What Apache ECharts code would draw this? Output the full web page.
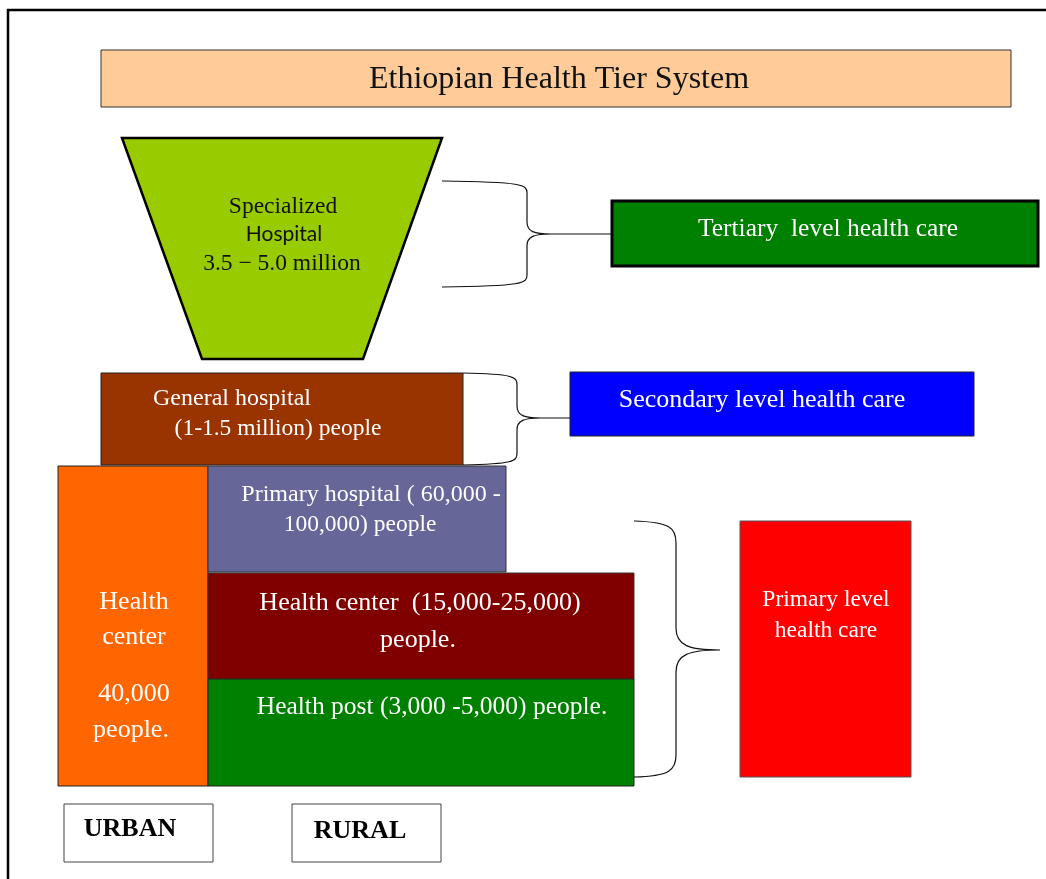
<!DOCTYPE html>
<html><head><meta charset="utf-8">
<script src="https://cdn.jsdelivr.net/npm/echarts@6/dist/echarts.min.js"></script>
<style>html,body{margin:0;padding:0;background:#fff}#c{width:1046px;height:879px}</style>
</head><body><div id="c"></div>
<script>
// Diagram boxes: [x0, y0, x1, y1] in diagram units
const boxNames = ['Title','Tertiary level','General hospital','Secondary level','Urban health center','Primary hospital','Health center','Health post','Primary level','URBAN','RURAL'];
const boxes = [
  [101,50,1011,107],
  [612,201,1038,266],
  [101,373,463,465],
  [570,372,974,436],
  [58,466,208,786],
  [208,466,506,572],
  [208,573,634,679],
  [208,679,634,786],
  [740,521,911,777],
  [64,804,213,862],
  [292,804,441,862]
];
const boxFill = ['#FFCC99','#008000','#993300','#0000FF','#FF6600','#666699','#800000','#008000','#FF0000','#FFFFFF','#FFFFFF'];
const boxStroke = ['#333','#000','#222','#222','#222','#333','#333','#222','#555','#444','#444'];
const boxLine = [1,3,1,1,1,1,1,1,1,1,1];

// Specialized hospital trapezoid corners
const trapezoid = [[122,138],[442,138],[363,359],[202,359]];

// Braces: [x start, y top, y bottom, x vertical, y middle, x tip, radius]
const brackets = [
  [442,181,287,527,234,612,12],
  [463,373,465,517,418,570,12],
  [634,521,777,676,650,719,22]
];

// Outer frame polyline
const frame = [[8,879],[8,10],[1046,10]];

// Text lines: [text, x, y]
const labels = [
  ['Ethiopian Health Tier System',559,80],
  ['Specialized',283,207],
  ['Hospital',284,234],
  ['3.5 \u2212 5.0 million',282,264],
  ['Tertiary  level health care',828,229],
  ['General hospital',232,399],
  ['(1-1.5 million) people',278,429],
  ['Secondary level health care',762,400],
  ['Health',134,602],
  ['center',134,637],
  ['40,000',134,694],
  ['people.',131,730],
  ['Primary hospital ( 60,000 -',371,495],
  ['100,000) people',360,525],
  ['Health center  (15,000-25,000)',420,603],
  ['people.',418,640],
  ['Health post (3,000 -5,000) people.',432,707],
  ['Primary level',826,600],
  ['health care',826,631],
  ['URBAN',130,829],
  ['RURAL',360,831]
];
const labelSize = [32,23.5,21,23.5,25.5,24,23.5,26,26,26,26,26,24,23.5,26,26,25.5,23.5,23.5,26,26];
const labelColor = ['#111','#111','#111','#111','#fff','#fff','#fff','#fff','#fff','#fff','#fff','#fff','#fff','#fff','#fff','#fff','#fff','#fff','#fff','#000','#000'];
const labelFont = labels.map((l,i)=> i===2 ? 'Lato, "Open Sans", sans-serif' : '"Liberation Serif", "DejaVu Serif", serif');
const labelWeight = labels.map((l,i)=> i>=19 ? 'bold' : 'normal');

const chart = echarts.init(document.getElementById('c'));
chart.setOption({
  animation:false,
  backgroundColor:'#fff',
  grid:{left:0,right:0,top:0,bottom:0},
  xAxis:{type:'value',min:0,max:1046,show:false},
  yAxis:{type:'value',min:0,max:879,inverse:true,show:false},
  series:[
    {
      type:'custom', name:'frame', silent:true,
      data:[[0]],
      renderItem:function(params, api){
        return {type:'polyline', shape:{points:frame.map(p=>api.coord(p))}, style:{stroke:'#000',lineWidth:2.5,fill:null}};
      }
    },
    {
      type:'custom', name:'boxes', silent:true,
      data:boxes,
      encode:{x:[0,2],y:[1,3]},
      renderItem:function(params, api){
        const i = params.dataIndex;
        const p0 = api.coord([api.value(0), api.value(1)]);
        const p1 = api.coord([api.value(2), api.value(3)]);
        return {type:'rect', shape:{x:p0[0],y:p0[1],width:p1[0]-p0[0],height:p1[1]-p0[1]},
          style:{fill:boxFill[i],stroke:boxStroke[i],lineWidth:boxLine[i]}};
      }
    },
    {
      type:'custom', name:'Specialized hospital', silent:true,
      data:[[0]],
      renderItem:function(params, api){
        return {type:'polygon', shape:{points:trapezoid.map(p=>api.coord(p))}, style:{fill:'#99CC00',stroke:'#000',lineWidth:2.5}};
      }
    },
    {
      type:'custom', name:'brackets', silent:true,
      data:brackets,
      encode:{x:[0,3,5],y:[1,2,4]},
      renderItem:function(params, api){
        const b = brackets[params.dataIndex];
        const x0=b[0], yT=b[1], yB=b[2], xV=b[3], yM=b[4], xT=b[5], r=b[6];
        const P = (x,y)=>api.coord([x,y]);
        const f = a=>a[0].toFixed(1)+' '+a[1].toFixed(1);
        const d = 'M '+f(P(x0,yT))+
          ' C '+f(P(xV-r*0.3,yT+1))+' '+f(P(xV,yT+r*0.3))+' '+f(P(xV,yT+r))+
          ' L '+f(P(xV,yM-r))+
          ' C '+f(P(xV,yM-r*0.2))+' '+f(P(xV+r*0.6,yM))+' '+f(P(xV+r*2,yM))+
          ' L '+f(P(xT,yM))+
          ' M '+f(P(xV+r*2,yM))+
          ' C '+f(P(xV+r*0.6,yM))+' '+f(P(xV,yM+r*0.2))+' '+f(P(xV,yM+r))+
          ' L '+f(P(xV,yB-r))+
          ' C '+f(P(xV,yB-r*0.3))+' '+f(P(xV-r*0.3,yB-1))+' '+f(P(x0,yB));
        return {type:'path', shape:{pathData:d}, style:{fill:null,stroke:'#111',lineWidth:1.2}};
      }
    },
    {
      type:'custom', name:'labels', silent:true,
      data:labels.map(l=>[l[1],l[2]]),
      renderItem:function(params, api){
        const i = params.dataIndex;
        const p = api.coord([api.value(0), api.value(1)]);
        return {type:'text', style:{text:labels[i][0], x:p[0], y:p[1], fill:labelColor[i],
          fontSize:labelSize[i], fontFamily:labelFont[i], fontWeight:labelWeight[i],
          align:'center', verticalAlign:'middle'}};
      }
    }
  ]
});
</script></body></html>
